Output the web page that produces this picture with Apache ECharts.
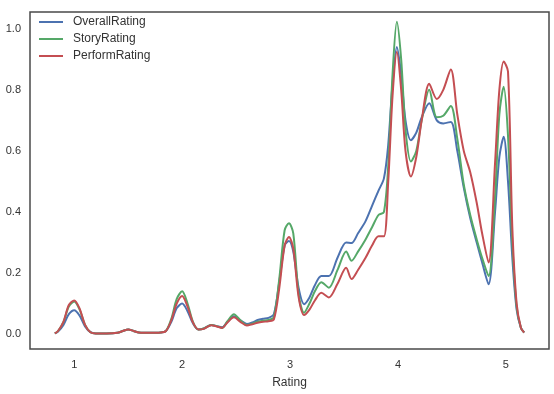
<!DOCTYPE html>
<html>
<head>
<meta charset="utf-8">
<script src="https://cdn.jsdelivr.net/npm/echarts@6/dist/echarts.min.js"></script>
<style>html,body{margin:0;padding:0;background:#fff;}#c{width:554px;height:394px;}</style>
</head>
<body>
<div id="c"></div>
<script>
const ratingX = [0.82,0.85,0.90,0.95,1.00,1.05,1.10,1.15,1.20,1.30,1.40,1.45,1.50,1.55,1.60,1.70,1.80,1.85,1.90,1.95,2.00,2.05,2.10,2.15,2.20,2.27,2.32,2.37,2.42,2.48,2.54,2.60,2.65,2.70,2.75,2.80,2.85,2.90,2.95,2.99,3.03,3.08,3.13,3.18,3.23,3.29,3.36,3.44,3.52,3.57,3.63,3.70,3.76,3.82,3.87,3.91,3.95,3.99,4.03,4.07,4.12,4.17,4.22,4.29,4.36,4.42,4.49,4.55,4.61,4.67,4.73,4.78,4.84,4.90,4.94,4.98,5.02,5.06,5.10,5.14,5.17];
const overallRating = [0.002,0.008,0.03,0.065,0.078,0.06,0.025,0.006,0.002,0.002,0.004,0.01,0.015,0.01,0.005,0.004,0.005,0.01,0.04,0.085,0.1,0.075,0.035,0.015,0.018,0.03,0.026,0.022,0.04,0.058,0.045,0.033,0.038,0.046,0.05,0.053,0.065,0.17,0.29,0.305,0.27,0.15,0.098,0.12,0.16,0.19,0.19,0.25,0.30,0.298,0.33,0.37,0.42,0.47,0.51,0.62,0.82,0.94,0.85,0.70,0.635,0.66,0.71,0.756,0.70,0.69,0.695,0.6,0.48,0.38,0.3,0.235,0.163,0.4,0.58,0.646,0.5,0.25,0.08,0.02,0.005];
const storyRating = [0.002,0.01,0.04,0.09,0.107,0.08,0.03,0.006,0.002,0.002,0.004,0.01,0.015,0.01,0.005,0.004,0.005,0.01,0.05,0.115,0.14,0.1,0.04,0.015,0.018,0.03,0.026,0.02,0.042,0.065,0.045,0.03,0.034,0.04,0.044,0.046,0.055,0.18,0.34,0.363,0.33,0.13,0.07,0.1,0.14,0.17,0.152,0.21,0.27,0.24,0.27,0.31,0.35,0.39,0.40,0.55,0.85,1.023,0.9,0.67,0.565,0.6,0.7,0.80,0.71,0.715,0.747,0.64,0.49,0.39,0.31,0.25,0.19,0.45,0.72,0.81,0.65,0.3,0.09,0.02,0.005];
const performRating = [0.002,0.01,0.04,0.095,0.11,0.083,0.03,0.006,0.002,0.002,0.004,0.01,0.015,0.01,0.005,0.004,0.005,0.01,0.045,0.1,0.125,0.09,0.038,0.015,0.017,0.029,0.025,0.02,0.038,0.055,0.04,0.028,0.032,0.037,0.04,0.042,0.048,0.15,0.29,0.318,0.28,0.12,0.062,0.08,0.11,0.135,0.12,0.165,0.217,0.18,0.21,0.25,0.29,0.32,0.32,0.5,0.78,0.925,0.8,0.6,0.516,0.58,0.7,0.82,0.77,0.80,0.867,0.72,0.6,0.53,0.43,0.33,0.234,0.56,0.8,0.893,0.86,0.35,0.1,0.02,0.005];
const xTicks = [1,2,3,4,5];
const yTicks = [0,0.2,0.4,0.6,0.8,1.0];
const seriesNames = ['OverallRating','StoryRating','PerformRating'];
const colors = ['#4C72B0','#55A868','#C44E52'];

const pairs = arr => ratingX.map((x,i)=>[x,arr[i]]);
const chart = echarts.init(document.getElementById('c'));
const font = 'Liberation Sans, Arial, sans-serif';
chart.setOption({
  animation:false,
  backgroundColor:'#fff',
  color: colors,
  grid:{left:30,right:5,top:12,bottom:42,show:true,borderColor:'#4a4a4a',borderWidth:1.5,backgroundColor:'#fff'},
  legend:{
    orient:'vertical',left:34,top:10,
    icon:'rect',itemWidth:24,itemHeight:2,itemGap:3,
    textStyle:{fontFamily:font,fontSize:12,color:'#333',lineHeight:14,padding:[0,0,0,5]},
    data:seriesNames
  },
  xAxis:{
    type:'value',min:0.59,max:5.40,
    name:'Rating',nameLocation:'middle',nameGap:28,
    nameTextStyle:{fontFamily:font,fontSize:12,color:'#333'},
    axisLine:{show:false},axisTick:{show:false},splitLine:{show:false},
    axisLabel:{customValues:xTicks,margin:10,fontFamily:font,fontSize:11,color:'#333'}
  },
  yAxis:{
    type:'value',min:-0.049,max:1.055,
    axisLine:{show:false},axisTick:{show:false},splitLine:{show:false},
    axisLabel:{customValues:yTicks,margin:9,fontFamily:font,fontSize:11,color:'#333',formatter:v=>v.toFixed(1)}
  },
  series:[overallRating,storyRating,performRating].map((d,i)=>({
    name:seriesNames[i],type:'line',data:pairs(d),showSymbol:false,symbol:'none',
    smooth:0.3,lineStyle:{width:2,color:colors[i]},itemStyle:{color:colors[i]}
  }))
});
</script>
</body>
</html>
